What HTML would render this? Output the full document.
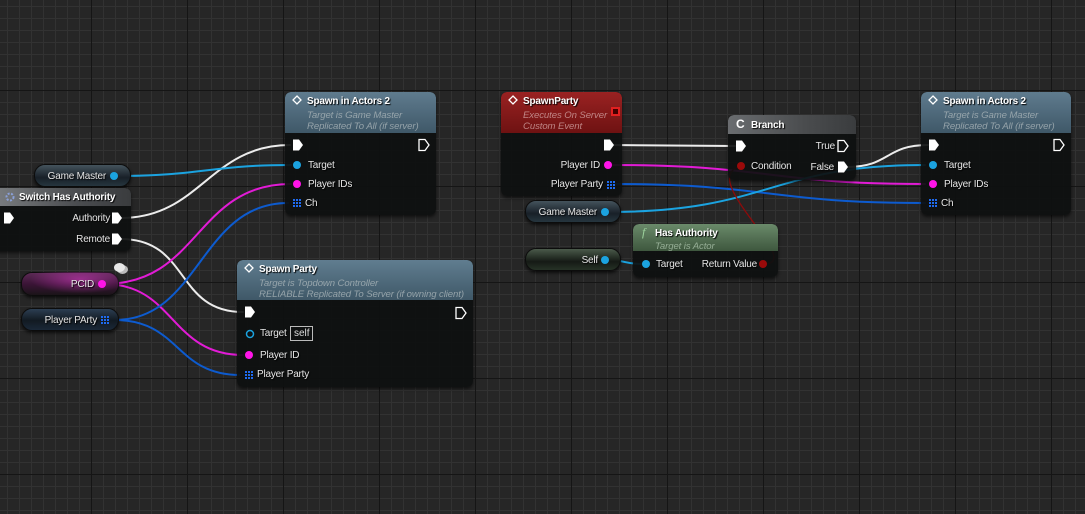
<!DOCTYPE html>
<html><head><meta charset="utf-8">
<style>
*{margin:0;padding:0;box-sizing:border-box}
body{width:1085px;height:514px;overflow:hidden;background:#262626;font-family:"Liberation Sans",sans-serif;position:relative;
background-image:
linear-gradient(to right,#151515 1px,transparent 1px),
linear-gradient(to bottom,#151515 1px,transparent 1px),
linear-gradient(to right,#323232 1px,transparent 1px),
linear-gradient(to bottom,#323232 1px,transparent 1px);
background-size:96px 96px,96px 96px,12px 12px,12px 12px;
background-position:91px 90px,91px 90px,7px 6px,7px 6px;}
.n{position:absolute;background:rgba(14,16,16,0.93);border-radius:6px;box-shadow:0 2px 3px rgba(0,0,0,.6);overflow:hidden}
.h{position:absolute;left:0;top:0;right:0;border-radius:6px 6px 0 0}
.t{position:absolute;color:#fff;font-size:10px;font-weight:bold;white-space:nowrap;text-shadow:1px 1px 1px #000;margin-top:1px;letter-spacing:-0.2px}
.s{position:absolute;color:#a9b4b8;font-size:9.6px;font-style:italic;white-space:nowrap;line-height:11px;opacity:.8;margin-top:1px;letter-spacing:-0.1px}
.l{position:absolute;color:#e6e6e6;font-size:10px;white-space:nowrap;text-shadow:1px 1px 1px #000;margin-top:2px;letter-spacing:-0.2px}
.r{text-align:right}
.v{position:absolute;border-radius:11px;box-shadow:0 2px 3px rgba(0,0,0,.7);border:1px solid #0c0c0c}
svg{position:absolute;left:0;top:0}
</style></head><body>
<svg width="1085" height="514" fill="none" stroke-linecap="round">
<g stroke-width="2">
<path d="M121,218 C200,218 210,145 290,145" stroke="#ececec"/>
<path d="M121,239 C190,239 175,312 243,312" stroke="#ececec"/>
<path d="M117,176 C200,176 210,165 291,165" stroke="#1ba3e0"/>
<path d="M104,284 C200,284 195,184 291,184" stroke="#e21bd6"/>
<path d="M104,284 C175,284 170,355 243,355" stroke="#e21bd6"/>
<path d="M115,320 C200,320 200,203 288,203" stroke="#0d5bcf"/>
<path d="M115,320 C180,320 175,375 240,375" stroke="#0d5bcf"/>
<path d="M611,145 L735,146" stroke="#ececec"/>
<path d="M611,165 C770,165 770,184 925,184" stroke="#e21bd6"/>
<path d="M611,184 C770,184 770,203 925,203" stroke="#0d5bcf"/>
<path d="M607,212 C770,212 770,165 925,165" stroke="#1ba3e0"/>
<path d="M847,167 C890,167 885,145 928,145" stroke="#ececec"/>
<path d="M607,260 C625,260 625,264 642,264" stroke="#1ba3e0"/>
</g>
<path d="M765,264 C805,262 695,178 741,166" stroke="#8c0b0b" stroke-width="1.3"/>
</svg>

<!-- Game Master var left -->
<div class="v" style="left:34px;top:164px;width:97px;height:23px;background:linear-gradient(#44535c,#182028 60%,#26363f)"></div>
<div class="l r" style="right:979px;top:169px">Game Master</div>

<!-- Switch Has Authority -->
<div class="n" style="left:-6px;top:188px;width:137px;height:63px">
<div class="h" style="height:18px;background:linear-gradient(to right,#7a7d80,#4b4d50 60%,#3a3c3e)"></div></div>
<div class="t" style="left:19px;top:191px">Switch Has Authority</div>
<div class="l r" style="right:975px;top:211px">Authority</div>
<div class="l r" style="right:975px;top:232px">Remote</div>

<!-- PCID -->
<div class="v" style="left:21px;top:272px;width:98px;height:24px;background:linear-gradient(#5b2a55,#3a1436 50%,#1a1418)"></div>
<div class="v" style="left:21px;top:272px;width:98px;height:24px;background:radial-gradient(ellipse at 60% 30%,rgba(220,60,200,.55),transparent 60%);border:none;box-shadow:none"></div>
<div class="l r" style="right:991px;top:277px">PCID</div>
<div style="position:absolute;left:114px;top:263px;width:11px;height:9px;border-radius:50%;background:#e8e8e8;box-shadow:3px 2px 0 #bbb"></div>

<!-- Player PArty -->
<div class="v" style="left:21px;top:308px;width:98px;height:23px;background:linear-gradient(#2c3e52,#121a22 55%,#1a2838)"></div>
<div class="l r" style="right:988px;top:313px">Player PArty</div>

<!-- Spawn in Actors 2 left -->
<div class="n" style="left:285px;top:92px;width:151px;height:123px">
<div class="h" style="height:41px;background:linear-gradient(#5f7b8e,#3f5868)"></div></div>
<div class="t" style="left:307px;top:95px">Spawn in Actors 2</div>
<div class="s" style="left:307px;top:109px">Target is Game Master<br>Replicated To All (if server)</div>
<div class="l" style="left:308px;top:158px">Target</div>
<div class="l" style="left:308px;top:177px">Player IDs</div>
<div class="l" style="left:305px;top:196px">Ch</div>

<!-- Spawn Party -->
<div class="n" style="left:237px;top:260px;width:236px;height:127px">
<div class="h" style="height:40px;background:linear-gradient(#607d90,#3f5868)"></div></div>
<div class="t" style="left:259px;top:263px">Spawn Party</div>
<div class="s" style="left:259px;top:277px">Target is Topdown Controller<br>RELIABLE Replicated To Server (if owning client)</div>
<div class="l" style="left:260px;top:326px">Target</div>
<div style="position:absolute;left:290px;top:326px;width:23px;height:15px;border:1px solid #bbb;color:#ddd;font-size:10px;padding-left:3px;line-height:13px">self</div>
<div class="l" style="left:260px;top:348px">Player ID</div>
<div class="l" style="left:257px;top:367px">Player Party</div>

<!-- SpawnParty event -->
<div class="n" style="left:501px;top:92px;width:121px;height:104px">
<div class="h" style="height:41px;background:linear-gradient(#9a2222,#6e1212)"></div></div>
<div class="t" style="left:523px;top:95px">SpawnParty</div>
<div class="s" style="left:523px;top:109px;color:#d0a0a0">Executes On Server<br>Custom Event</div>
<div style="position:absolute;left:611px;top:107px;width:9px;height:9px;border:2px solid #e02020;background:#400"></div>
<div class="l r" style="right:485px;top:158px">Player ID</div>
<div class="l r" style="right:482px;top:177px">Player Party</div>

<!-- Game Master var 2 -->
<div class="v" style="left:525px;top:200px;width:96px;height:23px;background:linear-gradient(#44535c,#182028 60%,#26363f)"></div>
<div class="l r" style="right:488px;top:205px">Game Master</div>

<!-- Self var -->
<div class="v" style="left:525px;top:248px;width:96px;height:23px;background:linear-gradient(#4a5a4a,#151a15 60%,#263226)"></div>
<div class="l r" style="right:487px;top:253px">Self</div>

<!-- Branch -->
<div class="n" style="left:728px;top:115px;width:128px;height:65px">
<div class="h" style="height:19px;background:linear-gradient(to right,#6a6d70,#4a4c4e 60%,#3a3c3e)"></div></div>
<div class="t" style="left:751px;top:119px">Branch</div>
<div style="position:absolute;left:736px;top:117px;color:#fff;font-size:12px;font-weight:bold">C</div>
<div class="l r" style="right:250px;top:139px">True</div>
<div class="l" style="left:751px;top:159px">Condition</div>
<div class="l r" style="right:251px;top:160px">False</div>

<!-- Has Authority -->
<div class="n" style="left:633px;top:224px;width:145px;height:53px">
<div class="h" style="height:27px;background:linear-gradient(#6a8a6a,#3e573e)"></div></div>
<div style="position:absolute;left:642px;top:225px;color:#9ed49e;font-size:12px;font-style:italic;font-family:'Liberation Serif',serif">f</div>
<div class="t" style="left:655px;top:227px">Has Authority</div>
<div class="s" style="left:655px;top:240px;color:#a8c0a8">Target is Actor</div>
<div class="l" style="left:656px;top:257px">Target</div>
<div class="l r" style="right:328px;top:257px">Return Value</div>

<!-- Spawn in Actors 2 right -->
<div class="n" style="left:921px;top:92px;width:150px;height:123px">
<div class="h" style="height:41px;background:linear-gradient(#5f7b8e,#3f5868)"></div></div>
<div class="t" style="left:943px;top:95px">Spawn in Actors 2</div>
<div class="s" style="left:943px;top:109px">Target is Game Master<br>Replicated To All (if server)</div>
<div class="l" style="left:944px;top:158px">Target</div>
<div class="l" style="left:944px;top:177px">Player IDs</div>
<div class="l" style="left:941px;top:196px">Ch</div>

<!-- Pins overlay -->
<svg width="1085" height="514">
<defs>
<path id="ex" d="M-5,-5.5 L1,-5.5 L5,0 L1,5.5 L-5,5.5 Z"/>
<g id="gr"><rect x="-4" y="-4" width="2" height="2"/><rect x="-1" y="-4" width="2" height="2"/><rect x="2" y="-4" width="2" height="2"/><rect x="-4" y="-1" width="2" height="2"/><rect x="-1" y="-1" width="2" height="2"/><rect x="2" y="-1" width="2" height="2"/><rect x="-4" y="2" width="2" height="2"/><rect x="-1" y="2" width="2" height="2"/><rect x="2" y="2" width="2" height="2"/></g>
</defs>
<g fill="#fff">
<use href="#ex" x="9" y="218"/><use href="#ex" x="117" y="218"/><use href="#ex" x="117" y="239"/>
<use href="#ex" x="298" y="145"/><use href="#ex" x="250" y="312"/><use href="#ex" x="609" y="145"/>
<use href="#ex" x="741" y="146"/><use href="#ex" x="843" y="167"/><use href="#ex" x="934" y="145"/>
</g>
<g fill="none" stroke="#fff" stroke-width="1.3">
<use href="#ex" x="424" y="145"/><use href="#ex" x="461" y="313"/><use href="#ex" x="843" y="146"/><use href="#ex" x="1059" y="145"/>
</g>
<g fill="#1ba3e0">
<circle cx="114" cy="176" r="4"/><circle cx="297" cy="165" r="4"/><circle cx="605" cy="212" r="4"/>
<circle cx="605" cy="260" r="4"/><circle cx="646" cy="264" r="4"/><circle cx="933" cy="165" r="4"/>
</g>
<circle cx="250" cy="334" r="3.5" fill="none" stroke="#1ba3e0" stroke-width="1.5"/>
<g fill="#ff14e8">
<circle cx="102" cy="284" r="4"/><circle cx="297" cy="184" r="4"/><circle cx="249" cy="355" r="4"/>
<circle cx="608" cy="165" r="4"/><circle cx="933" cy="184" r="4"/>
</g>
<g fill="#9a0a0a"><circle cx="741" cy="166" r="4"/><circle cx="763" cy="264" r="4"/></g>
<g fill="#1f6bf0">
<use href="#gr" x="105" y="320"/><use href="#gr" x="297" y="203"/><use href="#gr" x="249" y="375"/>
<use href="#gr" x="611" y="185"/><use href="#gr" x="933" y="203"/>
</g>
<g fill="none" stroke="#fff" stroke-width="1.3">
<path d="M297,96 l4,4 -4,4 -4,-4z"/><path d="M249,264 l4,4 -4,4 -4,-4z"/><path d="M513,96 l4,4 -4,4 -4,-4z"/><path d="M933,96 l4,4 -4,4 -4,-4z"/>
</g>
<circle cx="10" cy="197" r="3.5" fill="none" stroke="#8aa0d8" stroke-width="2" stroke-dasharray="2 1.5"/>
</svg>
</body></html>
